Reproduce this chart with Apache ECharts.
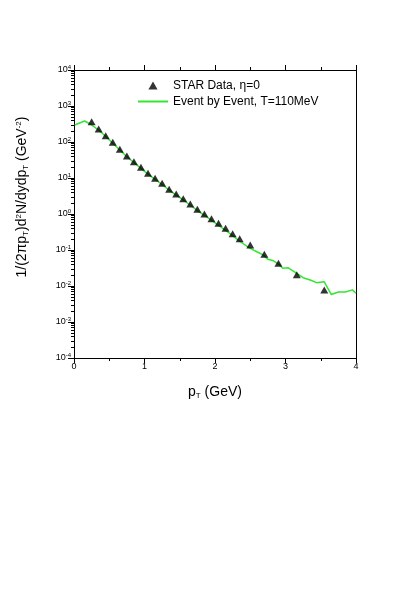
<!DOCTYPE html>
<html>
<head>
<meta charset="utf-8">
<script src="https://cdn.jsdelivr.net/npm/echarts@6/dist/echarts.min.js"></script>
<style>
html, body { margin: 0; padding: 0; background: #fff; }
#chart { width: 414px; height: 603px; }
</style>
</head>
<body>
<div id="chart"></div>
<script>
// STAR data points (pT in GeV, invariant yield)
var starPt = [0.25, 0.35, 0.45, 0.55, 0.65, 0.75, 0.85, 0.95, 1.05, 1.15, 1.25, 1.35, 1.45, 1.55, 1.65, 1.75, 1.85, 1.95, 2.05, 2.15, 2.25, 2.35, 2.50, 2.70, 2.90, 3.16, 3.55];
var starY = [366, 230, 150, 98, 63, 41, 28.4, 19.8, 13.5, 9.8, 7.1, 4.85, 3.6, 2.66, 1.9, 1.35, 1.0, 0.74, 0.55, 0.40, 0.284, 0.206, 0.138, 0.076, 0.043, 0.0206, 0.0078];

// event by event model curve
var modelPt = [0.01, 0.15, 0.23, 0.35, 0.45, 0.55, 0.65, 0.75, 0.85, 0.95, 1.05, 1.15, 1.25, 1.35, 1.45, 1.55, 1.65, 1.75, 1.85, 1.95, 2.05, 2.15, 2.25, 2.35, 2.45, 2.50, 2.60, 2.69, 2.75, 2.83, 2.92, 2.96, 3.04, 3.16, 3.25, 3.36, 3.44, 3.55, 3.65, 3.75, 3.85, 3.95, 4.0];
var modelY = [297, 383, 316, 215, 142, 92, 60, 39, 27, 18.5, 12.8, 9.2, 6.6, 4.6, 3.35, 2.45, 1.75, 1.25, 0.92, 0.67, 0.48, 0.35, 0.25, 0.175, 0.128, 0.111, 0.088, 0.072, 0.055, 0.05, 0.038, 0.031, 0.032, 0.0225, 0.017, 0.0145, 0.0124, 0.0131, 0.0058, 0.0068, 0.0068, 0.0078, 0.0063];

// minor ticks of the log axis (2..9 per decade), as log10 values
var minorLogTicks = [];
for (var e = -4; e < 4; e++) {
    for (var m = 2; m <= 9; m++) {
        minorLogTicks.push(e + Math.log10(m));
    }
}

var starName = 'STAR Data, \u03b7=0';
var modelName = 'Event by Event, T=110MeV';
var green = '#33e633';

var myChart = echarts.init(document.getElementById('chart'));

var option = {
    animation: false,
    textStyle: { fontFamily: 'Liberation Sans, Arial, sans-serif' },
    grid: {
        left: 74,
        right: 58,
        top: 70,
        bottom: 245,
        containLabel: false,
        outerBoundsMode: 'none'
    },
    legend: {
        orient: 'vertical',
        left: 133,
        top: 74,
        itemWidth: 30,
        itemHeight: 8,
        itemGap: 3,
        symbolKeepAspect: true,
        textStyle: { fontSize: 12, color: '#000', lineHeight: 13 },
        data: [
            { name: starName, icon: 'path://M4,0 L8,7 L0,7 Z' },
            { name: modelName, icon: 'path://M0,0 L30,0 L30,2 L0,2 Z', itemStyle: { color: green } }
        ]
    },
    graphic: [{
        type: 'text',
        x: 22,
        y: 197,
        rotation: Math.PI / 2,
        style: {
            text: '1/(2\u03c0p{sub|T})d{sup|2}N/dydp{sub|T} (GeV{sup|-2})',
            font: '14px Liberation Sans, Arial, sans-serif',
            fill: '#000',
            align: 'center',
            verticalAlign: 'middle',
            rich: {
                sub: { fontSize: 8, verticalAlign: 'bottom', padding: [7, 0, 0, 0], fill: '#000' },
                sup: { fontSize: 8, verticalAlign: 'top', padding: [0, 0, 7, 0], fill: '#000' }
            }
        }
    }],
    xAxis: [{
        type: 'value',
        min: 0,
        max: 4,
        interval: 1,
        name: 'p{sub|T} (GeV)',
        nameLocation: 'middle',
        nameGap: 27,
        nameTextStyle: {
            fontSize: 14,
            color: '#000',
            rich: {
                sub: { fontSize: 8, verticalAlign: 'bottom', padding: [7, 0, 0, 0] }
            }
        },
        axisLine: { onZero: false, lineStyle: { color: '#000', width: 1 } },
        axisTick: { show: true, inside: false, length: 5, lineStyle: { color: '#000' } },
        minorTick: { show: true, splitNumber: 2, length: 3, lineStyle: { color: '#000' } },
        axisLabel: { fontSize: 9, color: '#000', margin: 4 },
        splitLine: { show: false }
    }, {
        type: 'value',
        position: 'top',
        min: 0,
        max: 4,
        interval: 1,
        axisLine: { onZero: false, lineStyle: { color: '#000', width: 1 } },
        axisTick: { show: true, inside: false, length: 5, lineStyle: { color: '#000' } },
        minorTick: { show: true, splitNumber: 2, length: 3, lineStyle: { color: '#000' } },
        axisLabel: { show: false },
        splitLine: { show: false }
    }],
    yAxis: [{
        type: 'log',
        logBase: 10,
        min: 1e-4,
        max: 1e4,
        axisLine: { onZero: false, lineStyle: { color: '#000', width: 1 } },
        axisTick: { show: true, inside: false, length: 6, lineStyle: { color: '#000' } },
        axisLabel: {
            fontSize: 9,
            color: '#000',
            margin: 3,
            formatter: function (v) {
                return '10{sup|' + Math.round(Math.log10(v)) + '}';
            },
            rich: {
                sup: { fontSize: 6, verticalAlign: 'top', padding: [0, 0, 6, 0] }
            }
        },
        splitLine: { show: false }
    }, {
        // minor ticks of the log axis, placed on a linear log10 scale
        type: 'value',
        min: -4,
        max: 4,
        position: 'left',
        axisLine: { show: false, onZero: false },
        axisTick: {
            show: true,
            inside: false,
            length: 3,
            lineStyle: { color: '#000', width: 1 },
            customValues: minorLogTicks
        },
        axisLabel: { show: false, customValues: minorLogTicks },
        splitLine: { show: false }
    }, {
        type: 'value',
        min: -4,
        max: 4,
        position: 'right',
        axisLine: { show: true, onZero: false, lineStyle: { color: '#000', width: 1 } },
        axisTick: { show: false },
        axisLabel: { show: false },
        splitLine: { show: false }
    }],
    series: [{
        name: modelName,
        type: 'line',
        xAxisIndex: 0,
        yAxisIndex: 0,
        showSymbol: false,
        symbol: 'none',
        lineStyle: { color: green, width: 1.5 },
        itemStyle: { color: green },
        data: modelPt.map(function (x, i) { return [x, modelY[i]]; }),
        z: 2
    }, {
        name: starName,
        type: 'scatter',
        xAxisIndex: 0,
        yAxisIndex: 0,
        symbol: 'triangle',
        symbolSize: [8, 7],
        itemStyle: { color: '#000' },
        data: starPt.map(function (x, i) { return [x, starY[i]]; }),
        z: 3
    }]
};

myChart.setOption(option);
</script>
</body>
</html>
